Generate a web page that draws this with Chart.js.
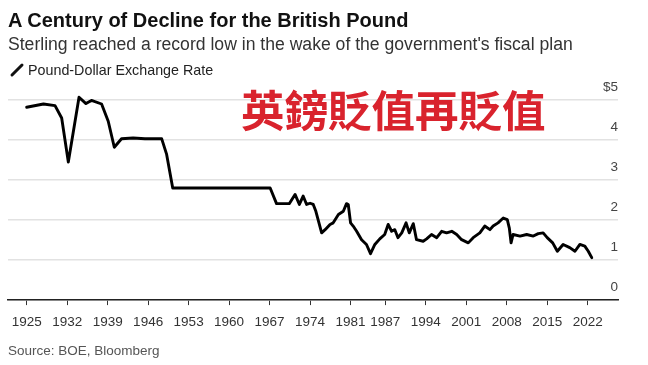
<!DOCTYPE html>
<html><head><meta charset="utf-8">
<script src="https://cdn.jsdelivr.net/npm/chart.js@4"></script>
<style>
html,body{margin:0;padding:0;background:#fff;width:648px;height:365px;overflow:hidden;}
#wrap{position:relative;width:648px;height:365px;}
canvas{position:absolute;left:0;top:0;}
.t{position:absolute;white-space:nowrap;font-family:"Liberation Sans",Arial,sans-serif;line-height:1;}
#title{left:8px;top:9.8px;font-size:20px;font-weight:bold;color:#111;}
#sub{left:8px;top:36.2px;font-size:17.6px;color:#333;}
#leg{left:28px;top:63px;font-size:14.3px;color:#222;}
#src{left:8px;top:343.5px;font-size:13.5px;color:#555;}
#cn{position:absolute;left:241px;top:86.5px;font-size:43.5px;line-height:1;font-weight:bold;color:#d9232d;white-space:nowrap;font-family:"Noto Sans CJK TC","Noto Sans CJK SC",sans-serif;}
#icon{position:absolute;left:9px;top:62px;}
</style></head><body>
<div id="wrap">
<canvas id="c" width="648" height="365"></canvas>
<div class="t" id="title">A Century of Decline for the British Pound</div>
<div class="t" id="sub">Sterling reached a record low in the wake of the government's fiscal plan</div>
<svg id="icon" width="16" height="16"><line x1="3" y1="13" x2="13" y2="3" stroke="#111" stroke-width="3" stroke-linecap="round"/></svg>
<div class="t" id="leg">Pound-Dollar Exchange Rate</div>
<div id="cn">英鎊貶值再貶值</div>
<div class="t" id="src">Source: BOE, Bloomberg</div>
</div>
<script>
const years = [1925.0,1927.9,1929.9,1931.05,1932.2,1934.05,1935.25,1936.2,1937.95,1939.1,1940.15,1941.4,1943.4,1945.45,1948.35,1949.2,1950.25,
1967.1,1968.2,1970.4,1971.4,1972.15,1972.8,1973.4,1974.0,1974.55,1975.0,1976.0,1976.6,1977.45,1978.0,1978.9,1979.75,1980.3,1980.6,
1981.0,1981.45,1982.05,1982.9,1983.75,1984.45,1985.2,1986.05,1986.9,1987.5,1988.1,1988.65,1989.2,1989.85,1990.6,1991.15,1991.85,1992.4,
1993.55,1994.15,1995.0,1995.9,1996.75,1997.6,1998.5,1999.35,2000.2,2001.35,2002.2,2003.35,2004.2,2005.1,2005.65,2006.5,2007.4,2008.1,
2008.45,2008.75,2009.1,2010.3,2011.45,2012.6,2013.45,2014.3,2015.0,2015.95,2016.75,2017.75,2018.9,2019.8,2020.65,2021.5,2022.1,2022.7];
const rates = [4.82,4.9,4.86,4.55,3.45,5.07,4.91,4.99,4.9,4.47,3.82,4.03,4.05,4.03,4.03,3.64,2.8,
2.8,2.41,2.41,2.64,2.39,2.6,2.39,2.42,2.39,2.22,1.68,1.76,1.89,1.93,2.14,2.22,2.41,2.39,
1.93,1.85,1.72,1.51,1.39,1.16,1.39,1.53,1.64,1.89,1.72,1.76,1.56,1.68,1.93,1.68,1.91,1.51,
1.47,1.53,1.64,1.56,1.72,1.68,1.72,1.64,1.51,1.43,1.56,1.68,1.85,1.76,1.85,1.93,2.05,2.01,
1.8,1.43,1.64,1.6,1.64,1.6,1.66,1.68,1.56,1.43,1.22,1.39,1.31,1.22,1.39,1.35,1.22,1.06];
const tickYears = [1925,1932,1939,1946,1953,1960,1967,1974,1981,1987,1994,2001,2008,2015,2022];
const yTicks = [0,1,2,3,4,5];

const points = years.map((yr,i)=>({x:yr,y:rates[i]}));
new Chart(document.getElementById('c'), {
  type:'line',
  data:{datasets:[{data:points,borderColor:'#000',borderWidth:2.9,pointRadius:0,tension:0,clip:false,
    borderJoinStyle:'round',borderCapStyle:'round',fill:false}]},
  options:{
    responsive:false,animation:false,devicePixelRatio:1,
    layout:{padding:{left:8,right:30,top:100,bottom:25.7}},
    plugins:{legend:{display:false},tooltip:{enabled:false},title:{display:false}},
    scales:{
      x:{type:'linear',min:1921.77,max:2027.24,
        afterBuildTicks:s=>{s.ticks=tickYears.map(v=>({value:v}));},
        ticks:{callback:v=>String(v),font:{family:'Liberation Sans',size:13.5},color:'#333',padding:9,maxRotation:0,autoSkip:false},
        grid:{drawOnChartArea:false,drawTicks:true,tickLength:5,color:'#333',lineWidth:1},
        border:{display:true,color:'#222',width:1.5}},
      y:{position:'right',min:0,max:5,
        afterBuildTicks:s=>{s.ticks=yTicks.map(v=>({value:v}));},
        ticks:{mirror:true,padding:0,labelOffset:-12.5,callback:v=>v===5?'$5':String(v),font:{family:'Liberation Sans',size:13.5},color:'#444'},
        grid:{color:'#e2e2e2',lineWidth:1.5,drawTicks:false},
        border:{display:false}}
    }
  }
});
</script>
</body></html>
